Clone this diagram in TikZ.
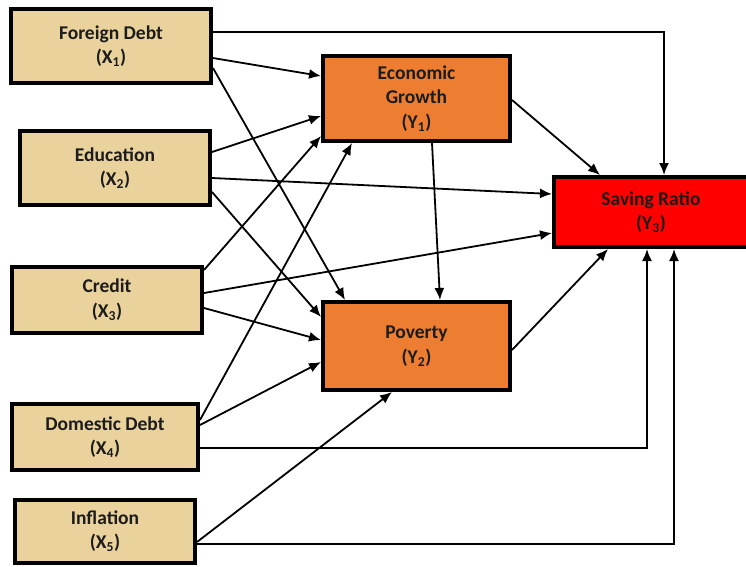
\documentclass[tikz,border=0pt]{standalone}
\usepackage{fontspec}
\setmainfont{Carlito}
\usetikzlibrary{arrows.meta}
\definecolor{parch}{HTML}{EAD29D}
\definecolor{orng}{HTML}{ED7D31}
\definecolor{txt}{HTML}{1C1C1C}
\tikzset{
  bx/.style={draw=black, line width=4pt, inner sep=0pt, align=center, text=txt,
    font=\fontsize{19.5}{24.5}\selectfont\bfseries},
  xbox/.style={bx, fill=parch},
  ybox/.style={bx, fill=orng},
  rbox/.style={bx, fill=red},
  conn/.style={line width=1.8pt, -{Latex[length=12pt,width=10pt]}},
}
\newcommand{\sbs}[1]{\textsubscript{#1}}
\begin{document}
\begin{tikzpicture}[x=1pt,y=-1pt]
\useasboundingbox (0,0) rectangle (746,566);
\node[xbox, minimum width=200pt, minimum height=74pt] (x1) at (111,46) {Foreign Debt\\(X\sbs{1})};
\node[xbox, minimum width=190pt, minimum height=74pt] (x2) at (115,168) {Education\\(X\sbs{2})};
\node[xbox, minimum width=190pt, minimum height=66pt] (x3) at (107,300) {Credit\\(X\sbs{3})};
\node[xbox, minimum width=186pt, minimum height=66pt] (x4) at (105,437) {Domestic Debt\\(X\sbs{4})};
\node[xbox, minimum width=180pt, minimum height=63pt] (x5) at (105,531) {Inflation\\(X\sbs{5})};
\node[ybox, minimum width=187pt, minimum height=85pt] (y1) at (416.5,98.5) {Economic\\Growth\\(Y\sbs{1})};
\node[ybox, minimum width=187pt, minimum height=88pt] (y2) at (416.5,346) {Poverty\\(Y\sbs{2})};
\node[rbox, minimum width=194pt, minimum height=70pt] (y3) at (651,212) {Saving Ratio\\(Y\sbs{3})};

% from X1
\draw[conn] (x1.east |- 0,32) -| (y3.north -| 664,0);
\draw[conn] (x1.east |- 0,58) -- (y1.west |- 0,76);
\draw[conn] (x1.east |- 0,68) -- (y2.north -| 345,0);
% from X2
\draw[conn] (x2.east |- 0,152) -- (y1.west |- 0,116);
\draw[conn] (x2.east |- 0,178) -- (y3.west |- 0,194);
\draw[conn] (x2.east |- 0,192) -- (y2.west |- 0,317);
% from X3
\draw[conn] (x3.east |- 0,270) -- (y1.west |- 0,136);
\draw[conn] (x3.east |- 0,293) -- (y3.west |- 0,233);
\draw[conn] (x3.east |- 0,308) -- (y2.west |- 0,340);
% from X4
\draw[conn] (x4.east |- 0,420) -- (y1.south -| 352,0);
\draw[conn] (x4.east |- 0,425) -- (y2.west |- 0,362);
\draw[conn] (x4.east |- 0,448) -| (y3.south -| 647,0);
% from X5
\draw[conn] (x5.east |- 0,542) -- (y2.south -| 392,0);
\draw[conn] (x5.east |- 0,544) -| (y3.south -| 674,0);
% from Y1, Y2
\draw[conn] (y1.south -| 432,0) -- (y2.north -| 440,0);
\draw[conn] (y1.east |- 0,100) -- (y3.north -| 600,0);
\draw[conn] (y2.east |- 0,350) -- (y3.south -| 608,0);
\end{tikzpicture}
\end{document}
